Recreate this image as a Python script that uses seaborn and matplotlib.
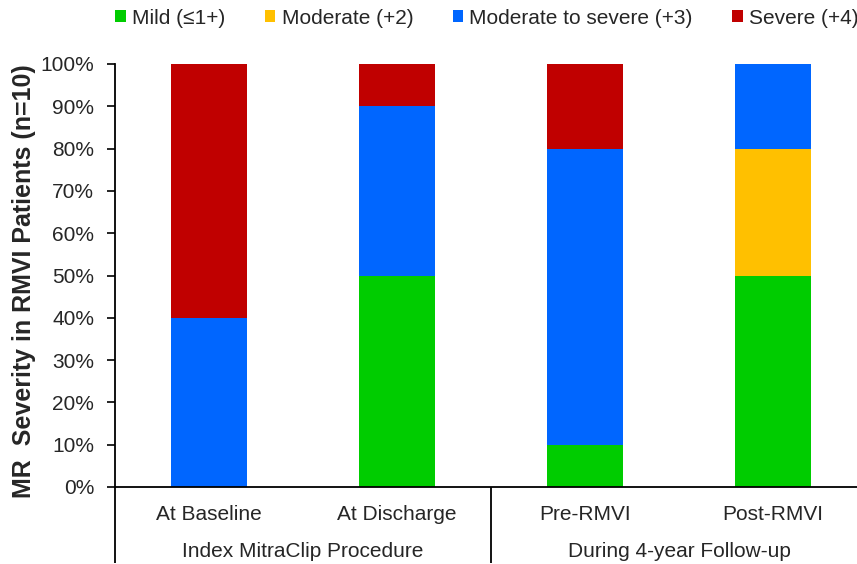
import matplotlib
matplotlib.use("Agg")
import matplotlib.pyplot as plt
import seaborn as sns
import pandas as pd
from matplotlib.patches import Patch
from matplotlib.ticker import PercentFormatter
import matplotlib.transforms as mtransforms

# ---- data ----
categories = ["At Baseline", "At Discharge", "Pre-RMVI", "Post-RMVI"]
groups = ["Index MitraClip Procedure", "During 4-year Follow-up"]
series_names = ["Mild (\u22641+)", "Moderate (+2)", "Moderate to severe (+3)", "Severe (+4)"]
mild = [0, 50, 10, 50]
moderate = [0, 0, 0, 30]
mod_severe = [40, 40, 70, 20]
severe = [60, 10, 20, 0]
colors = ["#00CC00", "#FFC000", "#0066FF", "#C00000"]

sns.set_theme(style="white")
plt.rcParams["font.family"] = ["Liberation Sans", "DejaVu Sans"]

FS = 15
fig = plt.figure(figsize=(8.57, 5.64), dpi=100)
ax = fig.add_axes([115 / 857, 77 / 564, 742 / 857, 423 / 564])

layers = [mild, moderate, mod_severe, severe]
cum = []
run = [0] * len(categories)
for lay in layers:
    run = [r + v for r, v in zip(run, lay)]
    cum.append(list(run))

# draw cumulative from top layer down so lower layers overlay
for i in reversed(range(len(layers))):
    df = pd.DataFrame({"cat": categories, "val": cum[i]})
    sns.barplot(data=df, x="cat", y="val", order=categories, color=colors[i],
                width=0.4, saturation=1, ax=ax, linewidth=0)

ax.set_xlim(-0.5, 3.447)
ax.set_ylim(0, 100)
ax.set_yticks(range(0, 101, 10))
ax.yaxis.set_major_formatter(PercentFormatter(decimals=0))
ax.tick_params(axis="y", which="both", left=True, length=6, width=1.2,
               color="black", labelsize=FS, pad=9, direction="out")
ax.tick_params(axis="x", bottom=False, labelsize=FS, pad=7)
ax.set_xlabel("")
ax.set_ylabel("MR  Severity in RMVI Patients (n=10)", fontsize=18, fontweight="bold")
ax.yaxis.set_label_coords(-0.106, 0.486)

for s in ["top", "right"]:
    ax.spines[s].set_visible(False)
for s in ["left", "bottom"]:
    ax.spines[s].set_color("black")
    ax.spines[s].set_linewidth(1.3)

# group separators and labels
trans = mtransforms.blended_transform_factory(ax.transData, ax.transAxes)
y_low = (564 - 563 - 77) / 423
for xs in [-0.5, 1.5]:
    ax.plot([xs, xs], [0, y_low], transform=trans, color="black", lw=1.3,
            clip_on=False, solid_capstyle="butt")
for gx, g in zip([0.5, 2.5], groups):
    ax.text(gx, (564 - 557 - 77) / 423, g, transform=trans, ha="center",
            va="baseline", fontsize=FS)

handles = [Patch(facecolor=c, edgecolor="none") for c in colors]
fig.legend(handles, series_names, loc="center", bbox_to_anchor=(487 / 857, 1 - 18 / 564),
           ncol=4, frameon=False, fontsize=FS, handlelength=0.5, handleheight=0.5,
           handletextpad=0.3, columnspacing=1.9)

fig.savefig("out.png", dpi=100)
